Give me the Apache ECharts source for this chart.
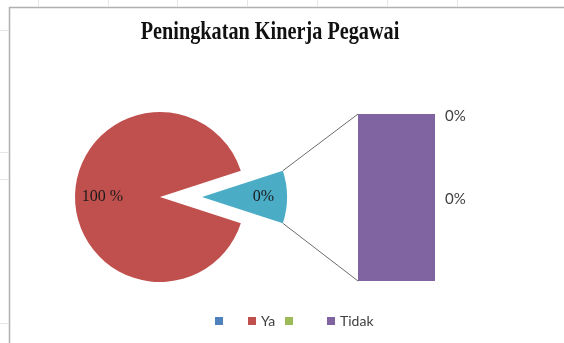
<!DOCTYPE html>
<html><head><meta charset="utf-8">
<script src="https://cdn.jsdelivr.net/npm/echarts@6/dist/echarts.min.js"></script>
<style>html,body{margin:0;padding:0;background:#fff}#c{width:564px;height:343px}</style>
</head><body><div id="c"></div>
<script>
// ---- data ----
const titleText = 'Peningkatan Kinerja Pegawai';
const pieNames = ['Lainnya', 'Ya'];          // cyan "other" wedge, red main slice
const pieShares = [10, 90];                 // angular share as drawn
const pieLabels = ['0%', '100 %'];
const barSeriesNames = ['Tidak', ' ', '  ']; // purple, blue, green
const barValues = [100, 0, 0];              // drawn heights of the secondary bar
const barLabels = ['0%', '0%', ''];
const legendNames = [' ', 'Ya', '  ', 'Tidak'];

// ---- layout constants ----
const C = [160, 197], R = 85, OFF = 42, HALF = 18;
const G = {left: 358, top: 114, width: 77, height: 167};
const colors = {blue:'#4F81BD', red:'#C0504D', green:'#9BBB59', purple:'#8064A2', cyan:'#4BACC6'};

const chart = echarts.init(document.getElementById('c'));
const rad = HALF * Math.PI / 180;
const tipX = C[0] + OFF;
const cornerX = tipX + R * Math.cos(rad), dy = R * Math.sin(rad);

const legendPos = [215, 248, 285, 327];
const legends = legendNames.map((n, i) => ({
  data: [n], left: legendPos[i], top: 314, orient: 'horizontal', padding: 0,
  icon: 'rect', itemWidth: 8, itemHeight: 8, itemGap: 0, selectedMode: false,
  textStyle: {fontFamily: 'Lato', fontSize: 14, color: '#404040'}
}));

const pieColors = [colors.cyan, colors.red];
const piePad = [[0,0,0,32],[0,24,0,0]];

chart.setOption({
  animation: false,
  legend: legends,
  grid: Object.assign({containLabel: false}, G),
  xAxis: {type: 'category', data: ['bar'], show: false},
  yAxis: {type: 'value', min: 0, max: 100, show: false},
  graphic: [
    {type:'rect', shape:{x:9.5, y:7.5, width:600, height:400}, style:{fill:null, stroke:'#b0b0b0', lineWidth:1.5}, silent:true},
    ...[38,108,177,247,317,387,457].map(x => ({type:'line', shape:{x1:x+0.5,y1:0,x2:x+0.5,y2:7}, style:{stroke:'#e6e6e6', lineWidth:1}, silent:true})),
    ...[30,152,179,323].map(y => ({type:'line', shape:{x1:0,y1:y+0.5,x2:9,y2:y+0.5}, style:{stroke:'#e6e6e6', lineWidth:1}, silent:true})),
    {type:'text', x:270, y:33, scaleX:0.81, silent:true,
      style:{text:titleText, font:'bold 25px "Liberation Serif"', fill:'#111', align:'center', verticalAlign:'middle'}},
    {type:'line', shape:{x1:cornerX, y1:C[1]-dy, x2:G.left, y2:G.top}, style:{stroke:'#6b6b6b', lineWidth:1}, silent:true},
    {type:'line', shape:{x1:cornerX, y1:C[1]+dy, x2:G.left, y2:G.top+G.height}, style:{stroke:'#6b6b6b', lineWidth:1}, silent:true}
  ],
  series: [
    {
      type: 'pie', center: C, radius: R, startAngle: HALF, clockwise: true,
      selectedMode: 'single', selectedOffset: OFF, avoidLabelOverlap: false,
      emphasis: {disabled: true}, silent: true,
      labelLine: {show: false},
      data: pieNames.map((n, i) => ({
        name: n, value: pieShares[i], selected: i === 0,
        itemStyle: {color: pieColors[i]},
        label: {show: true, position: 'inside', formatter: pieLabels[i], padding: piePad[i],
          fontFamily: 'Liberation Serif', fontSize: 16, color: '#1a1a1a'}
      }))
    },
    ...barSeriesNames.map((n, i) => ({
      type: 'bar', name: n, stack: 'other', barWidth: '100%', silent: true,
      itemStyle: {color: [colors.purple, colors.blue, colors.green][i]},
      label: {show: barLabels[i] !== '', position: 'right', distance: 10, offset: [0, 2], formatter: barLabels[i],
        fontFamily: 'Lato', fontSize: 15, color: '#404040'},
      data: [barValues[i]]
    }))
  ]
});
</script></body></html>
